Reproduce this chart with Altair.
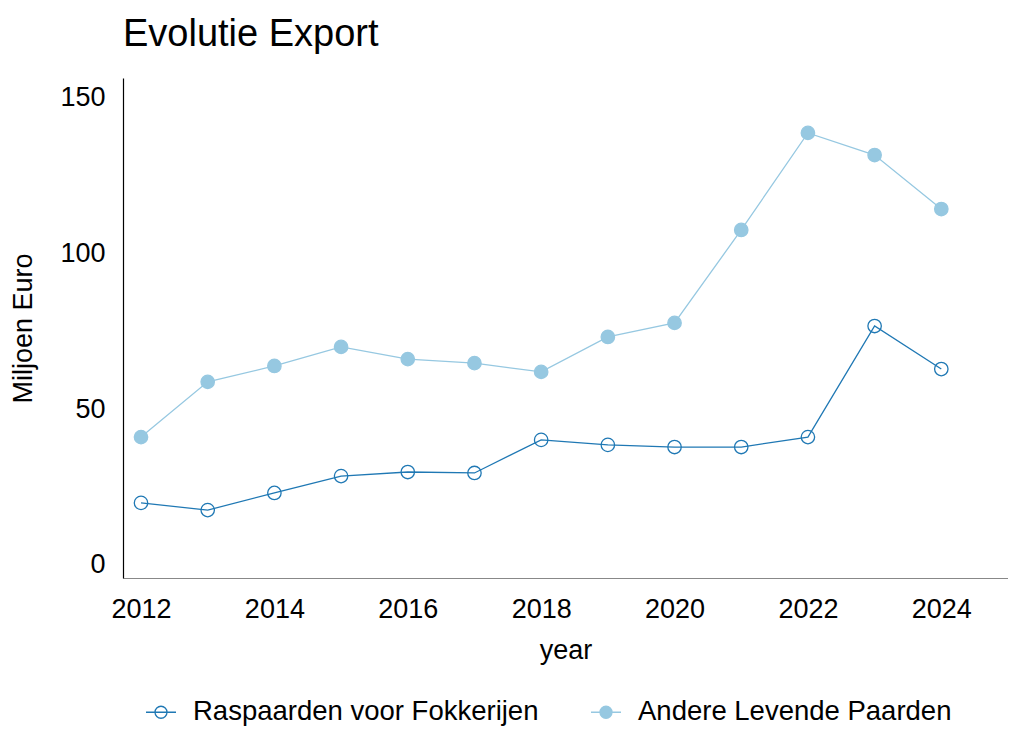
import altair as alt
import pandas as pd

years = list(range(2012, 2025))
raspaarden = [19.9, 17.6, 23.1, 28.5, 29.8, 29.5, 40.1, 38.5, 37.8, 37.8, 41.0, 76.6, 62.8]
andere = [41.0, 58.7, 63.8, 69.9, 66.0, 64.7, 61.9, 73.1, 77.6, 107.4, 138.5, 131.4, 114.1]
series_names = ["Raspaarden voor Fokkerijen", "Andere Levende Paarden"]

df = pd.DataFrame(
    {"year": years * 2,
     "value": raspaarden + andere,
     "series": [series_names[0]] * len(years) + [series_names[1]] * len(years)}
)

FONT = "Liberation Sans"
stroke_scale = alt.Scale(domain=series_names, range=["#1f78b4", "#96c8e1"])
fill_scale = alt.Scale(domain=series_names, range=["transparent", "#96c8e1"])

legend = alt.Legend(
    title=None, orient="none", direction="horizontal", legendX=22, legendY=618,
    symbolType="M-1,0 L1,0 M-0.4,0 A0.4,0.4 0 1,1 0.4,0 A0.4,0.4 0 1,1 -0.4,0 Z",
    symbolSize=900, symbolStrokeWidth=1.3, labelFontSize=27.5, labelFont=FONT,
    labelColor="black", columnPadding=49, labelOffset=16, labelLimit=600,
)

x = alt.X("year:Q", title="year",
          scale=alt.Scale(domain=[2011.73, 2025.0], nice=False, zero=False),
          axis=alt.Axis(values=list(range(2012, 2025, 2)), format="d", grid=False,
                        ticks=False, labelPadding=18, domainColor="#888888",
                        titlePadding=15))
y = alt.Y("value:Q", title="Miljoen Euro",
          scale=alt.Scale(domain=[-4.17, 156.1], nice=False, zero=False),
          axis=alt.Axis(values=[0, 50, 100, 150], grid=False, ticks=False,
                        labelPadding=18, domainColor="black", titlePadding=22))

base = alt.Chart(df)
lines = base.mark_line(strokeWidth=1.3).encode(
    x=x, y=y,
    stroke=alt.Stroke("series:N", scale=stroke_scale, legend=legend),
    detail="series:N",
)
points = base.mark_point(size=180, strokeWidth=1.3, opacity=1, filled=False).encode(
    x=x, y=y,
    stroke=alt.Stroke("series:N", scale=stroke_scale, legend=legend),
    fill=alt.Fill("series:N", scale=fill_scale, legend=legend),
)

chart = (
    alt.layer(lines, points)
    .properties(
        width=885, height=500, background="white",
        autosize=alt.AutoSizeParams(type="none"),
        padding={"left": 115, "top": 70, "right": 0, "bottom": 150},
        title=alt.TitleParams("Evolutie Export", anchor="start", frame="group",
                              fontSize=38, font=FONT, fontWeight="normal",
                              color="black", offset=24),
    )
    .configure_view(stroke=None)
    .configure_axis(labelFont=FONT, titleFont=FONT, labelFontSize=27,
                    titleFontSize=27, titleFontWeight="normal", labelColor="black",
                    titleColor="black", domainWidth=1.2)
)

chart.save("out.html", embed_options={"renderer": "svg", "actions": False})
